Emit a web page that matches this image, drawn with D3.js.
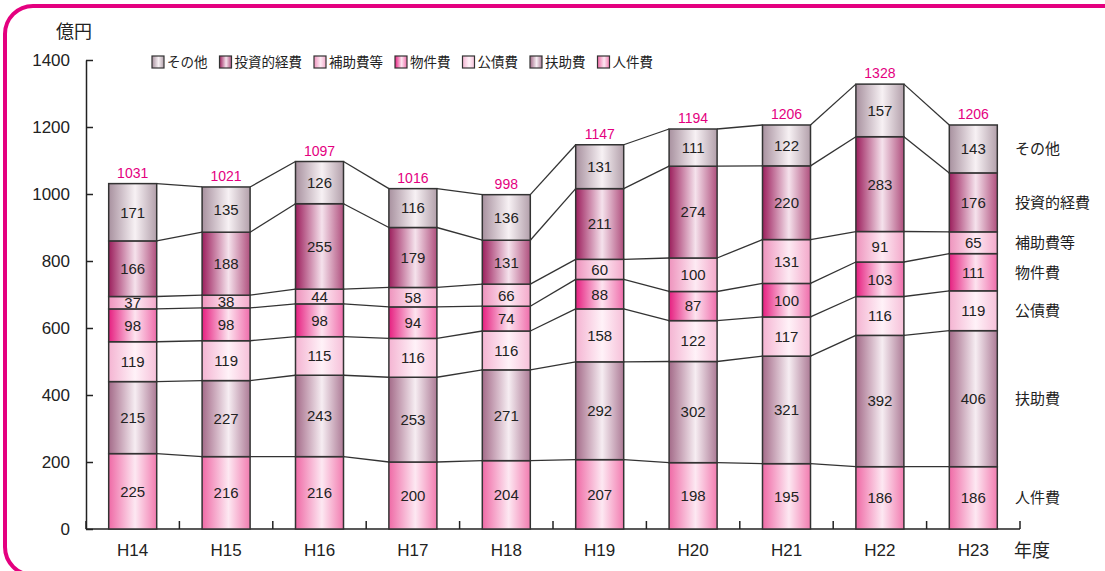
<!DOCTYPE html>
<html lang="ja">
<head>
<meta charset="UTF-8">
<title>歳出の推移</title>
<script src="https://d3js.org/d3.v7.min.js"></script>
<style>
  body { margin: 0; background: #fff; }
  svg { display: block; font-family: "Liberation Sans", Arial, sans-serif; }
  .jp { font-family: "Noto Sans CJK JP", sans-serif; }
</style>
</head>
<body>
<script>
// 年度
var years = ["H14", "H15", "H16", "H17", "H18", "H19", "H20", "H21", "H22", "H23"];
// 系列（下から順）
var seriesNames = ["人件費", "扶助費", "公債費", "物件費", "補助費等", "投資的経費", "その他"];
var jinkenhi   = [225, 216, 216, 200, 204, 207, 198, 195, 186, 186];
var fujohi     = [215, 227, 243, 253, 271, 292, 302, 321, 392, 406];
var kosaihi    = [119, 119, 115, 116, 116, 158, 122, 117, 116, 119];
var bukkenhi   = [98, 98, 98, 94, 74, 88, 87, 100, 103, 111];
var hojohi     = [37, 38, 44, 58, 66, 60, 100, 131, 91, 65];
var toshiteki  = [166, 188, 255, 179, 131, 211, 274, 220, 283, 176];
var sonota     = [171, 135, 126, 116, 136, 131, 111, 122, 157, 143];
var totals     = [1031, 1021, 1097, 1016, 998, 1147, 1194, 1206, 1328, 1206];
var yTicks = [0, 200, 400, 600, 800, 1000, 1200, 1400];

var seriesValues = [jinkenhi, fujohi, kosaihi, bukkenhi, hojohi, toshiteki, sonota];
// 凡例の並び
var legendOrder = ["その他", "投資的経費", "補助費等", "物件費", "公債費", "扶助費", "人件費"];

// グラデーション色 [左端, 中央, 右端]
var gradColors = {
  "人件費":   ["#ef6aa6", "#fde8f2", "#f27cb0"],
  "扶助費":   ["#a46b89", "#f6edf2", "#ad7b96"],
  "公債費":   ["#f4b4d2", "#fff2f8", "#f6c0d9"],
  "物件費":   ["#e61f80", "#fde3ef", "#ef6dab"],
  "補助費等": ["#ee93bd", "#fdeaf3", "#f3a8ca"],
  "投資的経費": ["#9c1f5d", "#f5e2ec", "#b0507e"],
  "その他":   ["#a8919f", "#f7f1f4", "#b3a0ab"]
};

var width = 1105, height = 571;
var svg = d3.select("body").append("svg").attr("width", width).attr("height", height);

// 外枠
svg.append("rect")
  .attr("x", 5).attr("y", 6).attr("width", 1130).attr("height", 569)
  .attr("rx", 28).attr("ry", 28)
  .attr("fill", "none").attr("stroke", "#e4007f").attr("stroke-width", 4);

var defs = svg.append("defs");
seriesNames.forEach(function(s, i) {
  var g = defs.append("linearGradient").attr("id", "grad" + i)
    .attr("x1", "0%").attr("x2", "100%").attr("y1", "0%").attr("y2", "0%");
  g.append("stop").attr("offset", "0%").attr("stop-color", gradColors[s][0]);
  g.append("stop").attr("offset", "55%").attr("stop-color", gradColors[s][1]);
  g.append("stop").attr("offset", "100%").attr("stop-color", gradColors[s][2]);
});

var x = d3.scaleBand().domain(years).range([86, 1020]).padding(0);
var y = d3.scaleLinear().domain([0, 1400]).range([529, 60]);
var barW = 48;
var off = (x.bandwidth() - barW) / 2;

// 積み上げデータ
var table = years.map(function(yr, i) {
  var row = { year: yr };
  seriesNames.forEach(function(s, k) { row[s] = seriesValues[k][i]; });
  return row;
});
var stacked = d3.stack().keys(seriesNames)(table);

// 単位
svg.append("text").attr("class", "jp")
  .attr("x", 56).attr("y", 38).attr("font-size", 18).attr("fill", "#222")
  .text("億円");

// y軸
var yAxis = d3.axisLeft(y).tickValues(yTicks).tickFormat(d3.format("d"))
  .tickSize(-7).tickSizeOuter(0).tickPadding(16);
var gy = svg.append("g").attr("transform", "translate(86,0)").call(yAxis);
gy.select(".domain").attr("stroke", "#222").attr("stroke-width", 1.5);
gy.selectAll(".tick line").attr("stroke", "#222").attr("stroke-width", 1.5);
gy.selectAll(".tick text").attr("font-size", 17).attr("fill", "#222")
  .attr("font-family", "Liberation Sans, Arial, sans-serif");

// x軸
svg.append("line")
  .attr("x1", 86).attr("x2", 1020).attr("y1", y(0)).attr("y2", y(0))
  .attr("stroke", "#222").attr("stroke-width", 1.5);
var bounds = years.map(function(d) { return x(d); }).concat([x.range()[1]]);
svg.selectAll(".xtick").data(bounds).enter().append("line")
  .attr("class", "xtick")
  .attr("x1", function(d) { return d; }).attr("x2", function(d) { return d; })
  .attr("y1", y(0)).attr("y2", y(0) - 8)
  .attr("stroke", "#222").attr("stroke-width", 1.5);
svg.selectAll(".xlab").data(years).enter().append("text")
  .attr("class", "xlab")
  .attr("x", function(d) { return x(d) + x.bandwidth() / 2; })
  .attr("y", 556).attr("text-anchor", "middle")
  .attr("font-size", 17).attr("fill", "#222")
  .text(function(d) { return d; });
svg.append("text").attr("class", "jp")
  .attr("x", 1014).attr("y", 557).attr("font-size", 18).attr("fill", "#222")
  .text("年度");

// 連結線
stacked.forEach(function(layer) {
  for (var i = 0; i < years.length - 1; i++) {
    svg.append("line")
      .attr("x1", x(years[i]) + off + barW).attr("y1", y(layer[i][1]))
      .attr("x2", x(years[i + 1]) + off).attr("y2", y(layer[i + 1][1]))
      .attr("stroke", "#333").attr("stroke-width", 1.3);
  }
});

// 棒
stacked.forEach(function(layer, k) {
  var g = svg.append("g");
  g.selectAll("rect").data(layer).enter().append("rect")
    .attr("x", function(d, i) { return x(years[i]) + off; })
    .attr("y", function(d) { return y(d[1]); })
    .attr("width", barW)
    .attr("height", function(d) { return y(d[0]) - y(d[1]); })
    .attr("fill", "url(#grad" + k + ")")
    .attr("stroke", "#333").attr("stroke-width", 1.5);
  g.selectAll("text").data(layer).enter().append("text")
    .attr("x", function(d, i) { return x(years[i]) + x.bandwidth() / 2; })
    .attr("y", function(d) { return (y(d[0]) + y(d[1])) / 2; })
    .attr("dy", "0.36em").attr("text-anchor", "middle")
    .attr("font-size", 15).attr("fill", "#222")
    .text(function(d) { return d[1] - d[0]; });
});

// 合計
svg.selectAll(".total").data(totals).enter().append("text")
  .attr("class", "total")
  .attr("x", function(d, i) { return x(years[i]) + x.bandwidth() / 2; })
  .attr("y", function(d) { return y(d) - 6; })
  .attr("text-anchor", "middle").attr("font-size", 14).attr("fill", "#e4007f")
  .text(function(d) { return d; });

// 右側の系列名（H23の位置）
var last = years.length - 1;
stacked.forEach(function(layer) {
  svg.append("text").attr("class", "jp")
    .attr("x", 1015)
    .attr("y", (y(layer[last][0]) + y(layer[last][1])) / 2)
    .attr("dy", "0.36em").attr("font-size", 15).attr("fill", "#222")
    .text(layer.key);
});

// 凡例
var lx = 152;
legendOrder.forEach(function(s) {
  var k = seriesNames.indexOf(s);
  svg.append("rect")
    .attr("x", lx).attr("y", 56).attr("width", 12).attr("height", 12)
    .attr("fill", "url(#grad" + k + ")").attr("stroke", "#333").attr("stroke-width", 1.2);
  var t = svg.append("text").attr("class", "jp")
    .attr("x", lx + 15).attr("y", 62).attr("dy", "0.36em")
    .attr("font-size", 13.5).attr("fill", "#222").text(s);
  lx += 15 + t.node().getComputedTextLength() + 12;
});
</script>
</body>
</html>
